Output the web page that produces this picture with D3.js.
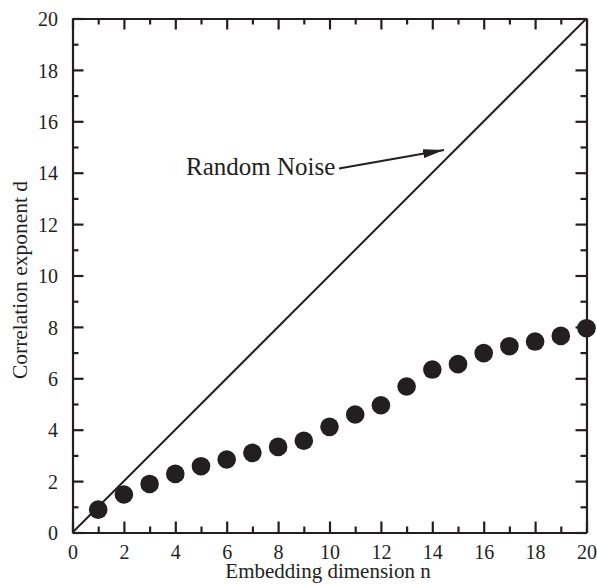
<!DOCTYPE html>
<html><head><meta charset="utf-8">
<script src="https://cdn.jsdelivr.net/npm/d3@7"></script>
<style>body{margin:0;background:#fff}svg{display:block}text{font-family:"Liberation Serif","Times New Roman",serif;fill:#231f20}</style>
</head><body><svg id="c" width="597" height="586"></svg>
<script>
const nValues = [1,2,3,4,5,6,7,8,9,10,11,12,13,14,15,16,17,18,19,20];
const dValues = [0.89,1.48,1.89,2.28,2.58,2.84,3.10,3.33,3.57,4.11,4.59,4.95,5.68,6.34,6.55,6.98,7.25,7.43,7.65,7.95];
const noiseLine = [[0,0],[20,20]];
const majorTicks = [0,2,4,6,8,10,12,14,16,18,20];
const minorTicks = [1,3,5,7,9,11,13,15,17,19];
const xTitle = "Embedding dimension n";
const yTitle = "Correlation exponent d";
const annotation = "Random Noise";

const svg = d3.select("#c");
const L=72.5, R=586.5, T=18.5, B=532.5;
const x = d3.scaleLinear().domain([0,20]).range([L,R]);
const y = d3.scaleLinear().domain([0,20]).range([B,T]);
const col="#231f20";

// noise line
svg.append("path").attr("d", d3.line().x(d=>x(d[0])).y(d=>y(d[1]))(noiseLine))
  .attr("stroke",col).attr("stroke-width",2).attr("fill","none");

// axes
const sw = 2.2;
function ax(gen, tr, vals, size, labels){
  const g = svg.append("g").attr("transform",tr).call(gen.tickValues(vals).tickSize(size).tickSizeOuter(0).tickFormat(labels?d3.format("d"):""));
  g.attr("font-family",null).attr("font-size",null);
  g.select(".domain").attr("stroke",col).attr("stroke-width",sw);
  g.selectAll(".tick line").attr("stroke",col).attr("stroke-width",sw);
  g.selectAll(".tick text").attr("font-size",20).style("font-family","'Liberation Serif','Times New Roman',serif").attr("fill",col);
  return g;
}
// bottom
const gb = ax(d3.axisBottom(x), `translate(0,${B})`, majorTicks, -11, true);
gb.selectAll(".tick text").attr("y",12).attr("dy","0.7em");
ax(d3.axisBottom(x), `translate(0,${B})`, minorTicks, -6, false).select(".domain").remove();
// top
ax(d3.axisTop(x), `translate(0,${T})`, majorTicks, -11, false);
ax(d3.axisTop(x), `translate(0,${T})`, minorTicks, -6, false).select(".domain").remove();
// left
const gl = ax(d3.axisLeft(y), `translate(${L},0)`, majorTicks, -11, true);
gl.selectAll(".tick text").attr("x",-14.5).attr("dy","0.36em");
ax(d3.axisLeft(y), `translate(${L},0)`, minorTicks, -6, false).select(".domain").remove();
// right
ax(d3.axisRight(y), `translate(${R},0)`, majorTicks, -11, false);
ax(d3.axisRight(y), `translate(${R},0)`, minorTicks, -6, false).select(".domain").remove();

// points
svg.append("g").selectAll("circle").data(nValues).join("circle")
  .attr("cx",(d)=>x(d)).attr("cy",(d,i)=>y(dValues[i])).attr("r",9.3).attr("fill",col);

// annotation
svg.append("text").attr("x",186).attr("y",174.5).attr("font-size",25).text(annotation);
svg.append("defs").append("marker").attr("id","ah").attr("viewBox","0 0 21 9").attr("refX",21).attr("refY",4.5)
  .attr("markerWidth",21).attr("markerHeight",9).attr("markerUnits","userSpaceOnUse").attr("orient","auto")
  .append("path").attr("d","M0,0L21,4.5L0,9Z").attr("fill",col);
svg.append("line").attr("x1",339).attr("y1",168.5).attr("x2",444).attr("y2",150)
  .attr("stroke",col).attr("stroke-width",1.8).attr("marker-end","url(#ah)");

// titles
svg.append("text").attr("x",328).attr("y",577.5).attr("text-anchor","middle").attr("font-size",21).text(xTitle);
svg.append("text").attr("transform",`translate(27,280) rotate(-90)`).attr("text-anchor","middle").attr("font-size",21.5).text(yTitle);
</script></body></html>
